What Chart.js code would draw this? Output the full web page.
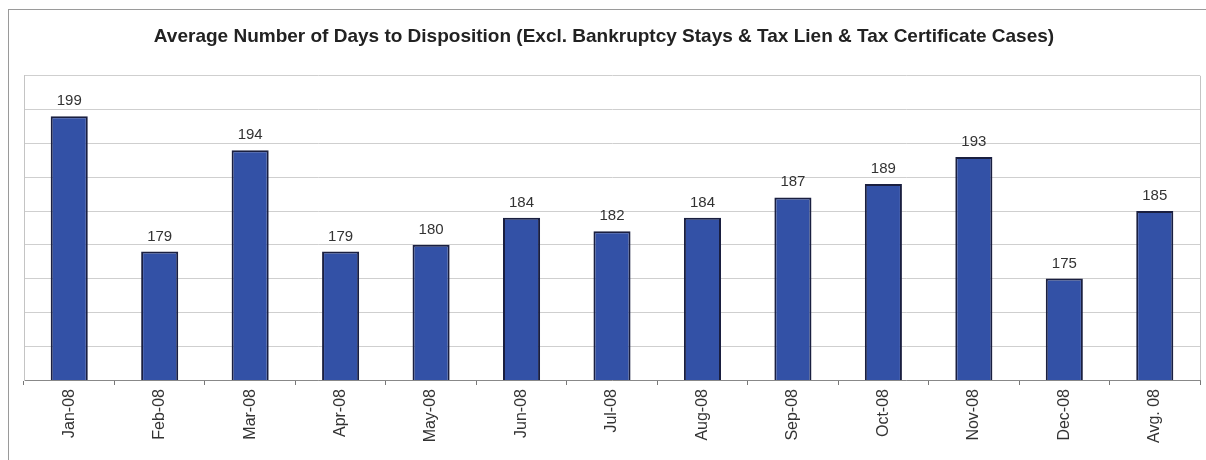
<!DOCTYPE html>
<html>
<head>
<meta charset="utf-8">
<script src="https://cdn.jsdelivr.net/npm/chart.js@4.4.1/dist/chart.umd.min.js"></script>
<style>
  html, body { margin: 0; padding: 0; background: #fff; }
  #wrap { position: relative; width: 1206px; height: 460px; }
  #frame { position: absolute; left: 8px; top: 9px; right: 0; bottom: 0;
           border-left: 1px solid #9a9a9a; border-top: 1px solid #9a9a9a; }
  canvas { position: absolute; left: 0; top: 0; }
</style>
</head>
<body>
<div id="wrap">
  <div id="frame"></div>
  <canvas id="chart" width="1206" height="460"></canvas>
</div>
<script>
// categories and values
const months = ['Jan-08', 'Feb-08', 'Mar-08', 'Apr-08', 'May-08', 'Jun-08', 'Jul-08',
                'Aug-08', 'Sep-08', 'Oct-08', 'Nov-08', 'Dec-08', 'Avg. 08'];
const days = [199, 179, 194, 179, 180, 184, 182, 184, 187, 189, 193, 175, 185];
const yMin = 160;
const yMax = 205;
const yStep = 5;

// right edge of the plot area
const plotFrame = {
    id: 'plotFrame',
    beforeDatasetsDraw(chart) {
        const a = chart.chartArea;
        const ctx = chart.ctx;
        ctx.save();
        ctx.strokeStyle = '#c4c4c4';
        ctx.lineWidth = 1;
        ctx.beginPath();
        ctx.moveTo(Math.round(a.right) + 0.5, a.top);
        ctx.lineTo(Math.round(a.right) + 0.5, a.bottom);
        ctx.stroke();
        ctx.restore();
    }
};

// value above every bar
const barValues = {
    id: 'barValues',
    afterDatasetsDraw(chart) {
        const ctx = chart.ctx;
        const meta = chart.getDatasetMeta(0);
        ctx.save();
        ctx.font = '15px "Liberation Sans", Arial, sans-serif';
        ctx.fillStyle = '#333';
        ctx.textAlign = 'center';
        ctx.textBaseline = 'alphabetic';
        meta.data.forEach(function (bar, i) {
            ctx.fillText(String(days[i]), bar.x, bar.y - 11);
        });
        ctx.restore();
    }
};

new Chart(document.getElementById('chart'), {
    type: 'bar',
    data: {
        labels: months,
        datasets: [{
            data: days,
            backgroundColor: '#3351a6',
            borderColor: '#1a1f40',
            borderWidth: 2,
            barPercentage: 0.41,
            categoryPercentage: 1
        }]
    },
    options: {
        responsive: false,
        animation: false,
        layout: { padding: { left: 8, right: 6, top: 0, bottom: 0 } },
        plugins: {
            legend: { display: false },
            tooltip: { enabled: false },
            title: {
                display: true,
                text: 'Average Number of Days to Disposition (Excl. Bankruptcy Stays & Tax Lien & Tax Certificate Cases)',
                color: '#222',
                font: { family: '"Liberation Sans", Arial, sans-serif', size: 19, weight: 'bold' },
                padding: { top: 25, bottom: 28 }
            }
        },
        scales: {
            x: {
                grid: { drawOnChartArea: false, drawTicks: true, tickLength: 5, color: '#777' },
                border: { color: '#888', width: 1 },
                ticks: {
                    minRotation: 90,
                    maxRotation: 90,
                    padding: 4,
                    color: '#333',
                    font: { family: '"Liberation Sans", Arial, sans-serif', size: 16 }
                },
                afterFit(scale) { scale.height = 80; }
            },
            y: {
                min: yMin,
                max: yMax,
                ticks: { display: false, stepSize: yStep },
                grid: { color: '#cfcfcf', lineWidth: 1, drawTicks: false },
                border: { color: '#c4c4c4', width: 1 },
                afterFit(scale) { scale.width = 16; }
            }
        }
    },
    plugins: [plotFrame, barValues]
});
</script>
</body>
</html>
